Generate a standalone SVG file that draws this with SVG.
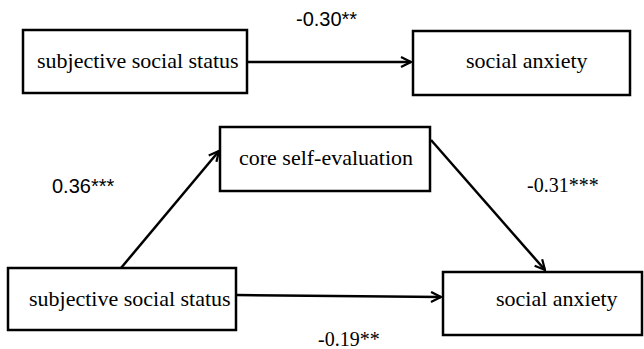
<svg xmlns="http://www.w3.org/2000/svg" width="644" height="349" viewBox="0 0 644 349">
<style>
.box{fill:#fff;stroke:#000;stroke-width:2.5}
.t{font-family:"Liberation Serif",serif;font-size:22px;fill:#000}
.ns{font-family:"Liberation Sans",sans-serif;font-size:20px;fill:#000}
.nr{font-family:"Liberation Serif",serif;font-size:20px;fill:#000}
.c{fill:none;stroke:#000;stroke-width:2.5}
</style>
<defs>
<marker id="ah" viewBox="0 0 12 12" refX="11" refY="6" markerWidth="12" markerHeight="12" markerUnits="userSpaceOnUse" orient="auto">
<path d="M1,1 L11,6 L1,11" fill="none" stroke="#000" stroke-width="2.2"/>
</marker>
</defs>
<g id="connectors">
<line class="c" x1="247" y1="62" x2="411" y2="62" marker-end="url(#ah)"/>
<line class="c" x1="121" y1="268" x2="219" y2="151" marker-end="url(#ah)"/>
<line class="c" x1="431" y1="140" x2="545" y2="270" marker-end="url(#ah)"/>
<line class="c" x1="236" y1="295" x2="441" y2="297" marker-end="url(#ah)"/>
<text class="ns" x="296" y="26">-0.30**</text>
<text class="ns" x="52" y="193">0.36***</text>
<text class="nr" x="527" y="192">-0.31***</text>
<text class="nr" x="318" y="346">-0.19**</text>
</g>
<g id="top-sss">
<rect class="box" x="23" y="30" width="224" height="63"/>
<text class="t" x="37" y="68">subjective social  status</text>
</g>
<g id="top-sa">
<rect class="box" x="413" y="31" width="217" height="64"/>
<text class="t" x="466" y="68">social anxiety</text>
</g>
<g id="cse">
<rect class="box" x="220" y="127" width="210" height="64"/>
<text class="t" x="239" y="165">core self-evaluation</text>
</g>
<g id="bot-sss">
<rect class="box" x="8" y="268" width="228" height="62"/>
<text class="t" x="29" y="306">subjective social status</text>
</g>
<g id="bot-sa">
<rect class="box" x="443" y="272" width="199" height="63"/>
<text class="t" x="496" y="306">social anxiety</text>
</g>
</svg>
